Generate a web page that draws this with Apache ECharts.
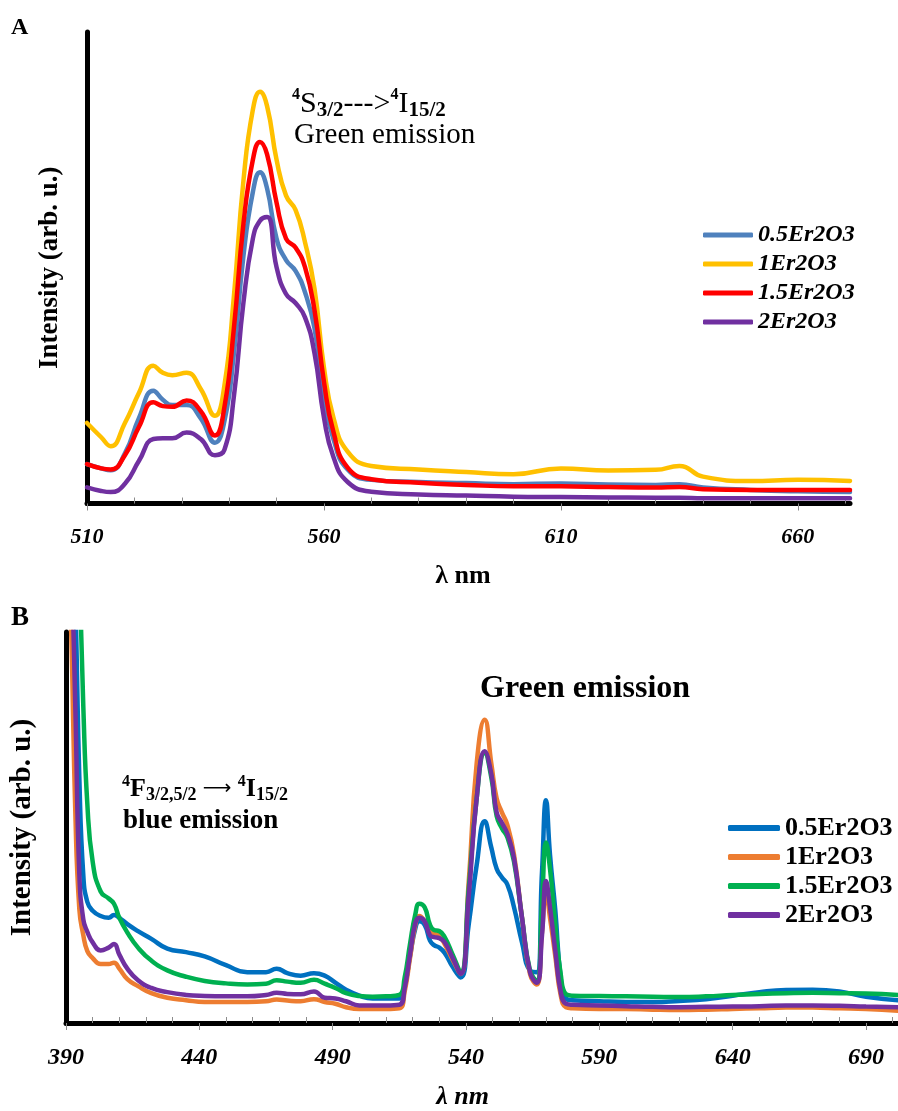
<!DOCTYPE html>
<html>
<head>
<meta charset="utf-8">
<script src="https://cdn.jsdelivr.net/npm/echarts@6/dist/echarts.min.js"></script>
<style>
html, body { margin: 0; padding: 0; background: #fff; }
#main { width: 898px; height: 1111px; }
</style>
</head>
<body>
<div id="main"></div>
<script>
// sample names (same four glasses in both panels)
var sampleNames = ['0.5Er2O3', '1Er2O3', '1.5Er2O3', '2Er2O3'];

// ---- panel A : green emission, 510-671 nm ----
var wavelengthA = [510, 513, 515, 518, 521, 524, 526, 528, 531, 534, 537, 539, 541, 543, 545, 546.5, 548, 550, 552, 554, 556, 558, 560, 562, 565, 570, 580, 590, 600, 610, 620, 630, 635, 640, 650, 660, 671];
var a05 = [110, 98, 93, 140, 240, 315, 290, 275, 275, 238, 170, 230, 420, 690, 870, 925, 880, 740, 680, 650, 590, 490, 300, 180, 95, 66, 60, 57, 54, 56, 53, 52, 54, 45, 38, 34, 32];
var a1 = [225, 185, 160, 225, 310, 385, 365, 358, 365, 320, 245, 330, 580, 900, 1100, 1150, 1110, 960, 860, 820, 730, 600, 380, 240, 145, 105, 95, 88, 82, 98, 92, 94, 105, 75, 63, 66, 63];
var a15 = [110, 98, 95, 135, 215, 283, 272, 270, 288, 258, 190, 270, 490, 780, 960, 1010, 975, 840, 740, 715, 660, 540, 340, 200, 100, 68, 58, 52, 48, 48, 46, 45, 46, 40, 38, 38, 38];
var a2 = [45, 35, 32, 55, 120, 180, 182, 182, 198, 180, 135, 150, 300, 560, 740, 790, 800, 660, 585, 560, 520, 420, 240, 130, 60, 33, 25, 22, 19, 18, 17, 16, 16, 15, 15, 15, 15];
var ticksA = [510, 560, 610, 660];

// ---- panel B : blue + green emission, 390-702 nm ----
var wavelengthB = [390, 392, 393.5, 395, 396.5, 398, 400, 403, 406, 408, 410, 413, 417, 422, 428, 435, 442, 450, 458, 465, 469, 473, 478, 483, 487, 491, 495, 500, 505, 510, 515, 517, 519, 521, 522.5, 524.5, 526.5, 528, 530, 532, 535, 538, 541, 544, 547, 549.5, 551.5, 553.5, 555.5, 558, 561, 564, 566.5, 568.5, 570, 571.5, 573.5, 575.5, 577.5, 580, 590, 600, 610, 620, 630, 640, 650, 660, 670, 680, 690, 702];
var b05 = [1600, 1500, 1200, 700, 420, 345, 320, 305, 300, 308, 300, 282, 262, 240, 212, 202, 190, 165, 145, 145, 155, 142, 135, 142, 135, 115, 95, 78, 70, 70, 70, 105, 190, 270, 290, 280, 235, 222, 215, 200, 160, 130, 280, 450, 575, 500, 440, 415, 395, 330, 230, 150, 145, 430, 635, 480, 320, 130, 70, 65, 62, 60, 60, 63, 68, 78, 88, 94, 95, 90, 75, 65];
var b1 = [1600, 1100, 600, 325, 250, 205, 185, 168, 168, 172, 155, 125, 105, 85, 72, 65, 60, 60, 60, 62, 67, 64, 62, 68, 60, 55, 45, 40, 40, 40, 42, 90, 185, 280, 305, 290, 260, 255, 248, 225, 180, 140, 400, 740, 865, 740, 640, 600, 565, 480, 300, 140, 110, 260, 370, 300, 190, 80, 45, 42, 40, 40, 38, 37, 38, 40, 42, 44, 44, 42, 40, 35];
var b15 = [1600, 1600, 1600, 1300, 900, 625, 460, 375, 355, 340, 300, 258, 215, 178, 150, 132, 120, 113, 110, 112, 122, 118, 115, 123, 112, 100, 85, 77, 75, 76, 80, 130, 225, 310, 340, 330, 280, 265, 262, 245, 195, 145, 380, 640, 770, 700, 590, 555, 530, 460, 300, 150, 120, 340, 515, 440, 280, 140, 82, 78, 77, 76, 75, 74, 76, 80, 83, 85, 86, 85, 84, 80];
var b2 = [1600, 1300, 900, 425, 295, 260, 230, 207, 215, 225, 195, 155, 122, 100, 88, 80, 77, 76, 76, 80, 86, 83, 82, 90, 72, 70, 62, 50, 50, 50, 52, 100, 195, 285, 300, 290, 250, 245, 242, 230, 185, 140, 360, 640, 775, 710, 600, 570, 540, 470, 300, 145, 115, 250, 405, 330, 205, 90, 55, 52, 50, 48, 46, 45, 46, 47, 48, 50, 50, 49, 47, 45];
var ticksB = [390, 440, 490, 540, 590, 640, 690];

var colorsA = ['#4f81bd', '#ffc000', '#ff0000', '#7030a0'];
var colorsB = ['#0070c0', '#ed7d31', '#00b050', '#7030a0'];

var serif = '"Liberation Serif", "Times New Roman", serif';

// small ticks every 10 nm, skipping the labelled ones
function minorTicks(from, to, labelled) {
    var out = [];
    for (var v = from; v <= to; v += 10) {
        if (labelled.indexOf(v) < 0) out.push(v);
    }
    return out;
}

function makeSeries(name, color, xs, ys, idx) {
    return {
        name: name,
        type: 'line',
        xAxisIndex: idx,
        yAxisIndex: idx / 2,
        data: xs.map(function (x, i) { return [x, ys[i]]; }),
        symbol: 'none',
        showSymbol: false,
        smooth: 0.5,
        color: color,
        lineStyle: { width: 4.5, color: color, cap: 'round', join: 'round' },
        clip: true,
        silent: true
    };
}

function innerAxis(grid, min, max, ticks) {
    return {
        gridIndex: grid, type: 'value', min: min, max: max, position: 'bottom',
        axisLine: { show: true, lineStyle: { color: '#000', width: 5 } },
        axisTick: { show: true, inside: true, length: 6, lineStyle: { color: '#8c8c8c', width: 1 },
            customValues: minorTicks(min, max, ticks) },
        axisLabel: { show: false },
        splitLine: { show: false }
    };
}

function outerAxis(grid, min, max, ticks, fontSize, nameGap, shift, italicName) {
    return {
        gridIndex: grid, type: 'value', min: min, max: max, position: 'bottom',
        axisLine: { show: false },
        axisTick: { show: true, inside: false, length: 7, lineStyle: { color: '#8c8c8c', width: 1 },
            customValues: ticks },
        axisLabel: { customValues: ticks, margin: 23, color: '#000', fontFamily: serif,
            fontSize: fontSize, fontStyle: 'italic', fontWeight: 'bold' },
        splitLine: { show: false },
        name: 'λ nm',
        nameLocation: 'middle',
        nameGap: nameGap,
        nameTextStyle: { color: '#000', fontFamily: serif, fontSize: 26, fontWeight: 'bold',
            fontStyle: italicName ? 'italic' : 'normal', padding: [0, shift, 0, 0] }
    };
}

function yAxisFor(grid, max, fontSize, nameGap) {
    return {
        gridIndex: grid, type: 'value', min: 0, max: max,
        axisLine: { show: true, lineStyle: { color: '#000', width: 5 } },
        axisTick: { show: false },
        axisLabel: { show: false },
        splitLine: { show: false },
        name: 'Intensity (arb. u.)',
        nameLocation: 'middle',
        nameRotate: 90,
        nameGap: nameGap,
        nameTextStyle: { color: '#000', fontFamily: serif, fontSize: fontSize, fontWeight: 'bold' }
    };
}

var namesA = sampleNames.map(function (n) { return 'A|' + n; });
var namesB = sampleNames.map(function (n) { return 'B|' + n; });
var dataA = [a05, a1, a15, a2];
var dataB = [b05, b1, b15, b2];

var series = [];
for (var i = 0; i < 4; i++) series.push(makeSeries(namesA[i], colorsA[i], wavelengthA, dataA[i], 0));
for (var j = 0; j < 4; j++) series.push(makeSeries(namesB[j], colorsB[j], wavelengthB, dataB[j], 2));

var supStyle = { fontFamily: serif, fontSize: 16, fontWeight: 'bold', verticalAlign: 'top', lineHeight: 16, fill: '#000' };

var option = {
    animation: false,
    backgroundColor: '#fff',
    grid: [
        { left: 87, top: 32, width: 763, height: 471.5 },
        { left: 61, top: 632, width: 837, height: 394 }
    ],
    xAxis: [
        innerAxis(0, 510, 671, ticksA),
        outerAxis(0, 510, 671, ticksA, 22, 60, 11, false),
        innerAxis(1, 390, 702, ticksB),
        outerAxis(1, 390, 702, ticksB, 24, 61, 39, true)
    ],
    yAxis: [
        yAxisFor(0, 1317, 27, 23),
        yAxisFor(1, 1115, 29, 29)
    ],
    legend: [
        {
            data: namesA, orient: 'vertical', left: 703, top: 223, padding: 0,
            icon: 'roundRect', itemWidth: 50, itemHeight: 5, itemGap: 5,
            selectedMode: false,
            formatter: function (n) { return n.split('|')[1]; },
            textStyle: { color: '#000', fontFamily: serif, fontSize: 24, fontStyle: 'italic', fontWeight: 'bold', lineHeight: 24 }
        },
        {
            data: namesB, orient: 'vertical', left: 728, top: 815, padding: 0,
            icon: 'roundRect', itemWidth: 52, itemHeight: 6, itemGap: 3,
            selectedMode: false,
            formatter: function (n) { return n.split('|')[1]; },
            textStyle: { color: '#000', fontFamily: serif, fontSize: 26, fontWeight: 'bold', lineHeight: 26 }
        }
    ],
    graphic: [
        { type: 'text', x: 11, y: 28, style: { text: 'A', font: 'bold 24px ' + serif, fill: '#000', verticalAlign: 'middle' } },
        { type: 'text', x: 11, y: 618, style: { text: 'B', font: 'bold 27px ' + serif, fill: '#000', verticalAlign: 'middle' } },
        // panel A annotation
        {
            type: 'text', x: 292, y: 104,
            style: {
                text: '{sup|4}{m|S}{sub|3/2}{m|--->}{sup|4}{m|I}{sub|15/2}',
                verticalAlign: 'middle',
                fill: '#000',
                rich: {
                    sup: supStyle,
                    m: { fontFamily: serif, fontSize: 30, lineHeight: 34, fill: '#000' },
                    sub: { fontFamily: serif, fontSize: 21, fontWeight: 'bold', verticalAlign: 'bottom', lineHeight: 21, fill: '#000' }
                }
            }
        },
        { type: 'text', x: 294, y: 135, style: { text: 'Green emission', font: '29px ' + serif, fill: '#000', verticalAlign: 'middle' } },
        // panel B annotations
        { type: 'text', x: 480, y: 689, style: { text: 'Green emission', font: 'bold 32px ' + serif, fill: '#000', verticalAlign: 'middle' } },
        {
            type: 'text', x: 122, y: 789,
            style: {
                text: '{sup|4}{m|F}{sub|3/2,5/2}{ar| ⟶ }{sup|4}{m|I}{sub|15/2}',
                verticalAlign: 'middle',
                fill: '#000',
                rich: {
                    sup: supStyle,
                    m: { fontFamily: serif, fontSize: 26, fontWeight: 'bold', lineHeight: 30, fill: '#000' },
                    ar: { fontFamily: '"DejaVu Sans", sans-serif', fontSize: 20, lineHeight: 30, fill: '#000' },
                    sub: { fontFamily: serif, fontSize: 18, fontWeight: 'bold', verticalAlign: 'bottom', lineHeight: 18, fill: '#000' }
                }
            }
        },
        { type: 'text', x: 123, y: 821, style: { text: 'blue emission', font: 'bold 27px ' + serif, fill: '#000', verticalAlign: 'middle' } }
    ],
    series: series
};

var chart = echarts.init(document.getElementById('main'), null, { renderer: 'canvas' });
chart.setOption(option);
</script>
</body>
</html>
